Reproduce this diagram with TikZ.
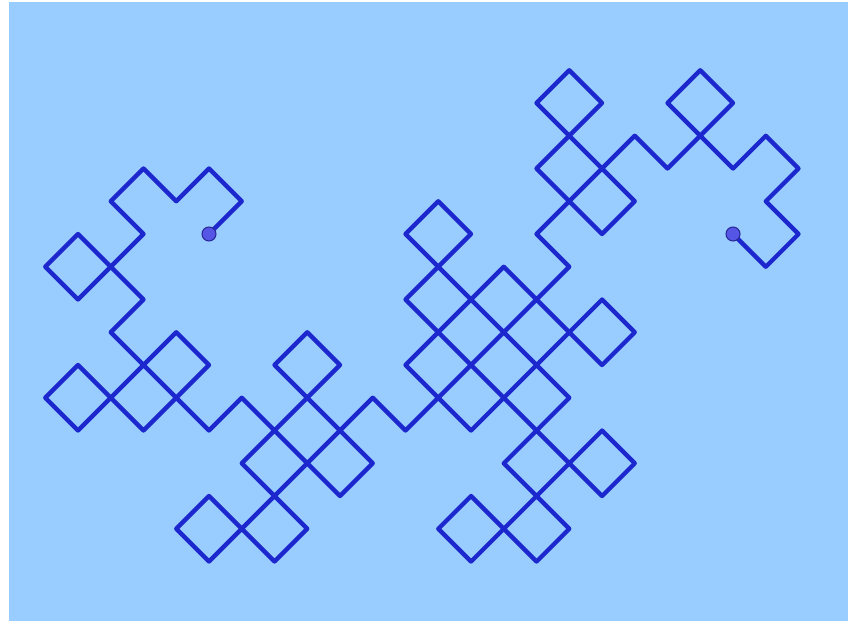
\documentclass[tikz,border=0pt]{standalone}
\usetikzlibrary{calc}
\definecolor{bgblue}{RGB}{153,204,255}
\definecolor{curveblue}{RGB}{28,40,205}
\definecolor{dotfill}{RGB}{85,85,230}
\definecolor{dotline}{RGB}{40,40,150}
\tikzset{
  curve/.style={draw=curveblue, line width=3.2pt, line join=round, line cap=round},
  enddot/.style={circle, fill=dotfill, draw=dotline, line width=0.8pt, inner sep=0pt, minimum size=10.5pt}
}
% build the dragon-curve path (order 7, 128 diagonal segments)
\newcount\segk \newcount\oddp \newcount\dirn \newcount\ptx \newcount\pty \newcount\tmpc
\def\pathspec{(0,0)}
\dirn=0 \ptx=0 \pty=0 \segk=0
\def\reduceodd{\ifodd\oddp\else\divide\oddp by 2 \expandafter\reduceodd\fi}
\loop
  \ifcase\dirn \advance\ptx by 1 \advance\pty by 1
  \or \advance\ptx by -1 \advance\pty by 1
  \or \advance\ptx by -1 \advance\pty by -1
  \or \advance\ptx by 1 \advance\pty by -1 \fi
  \edef\pathspec{\pathspec -- (\the\ptx,\the\pty)}
  \advance\segk by 1
\ifnum\segk<128
  \oddp=\segk
  \reduceodd
  \tmpc=\oddp \divide\tmpc by 4 \multiply\tmpc by 4 \advance\oddp by -\tmpc
  \ifnum\oddp=1 \advance\dirn by 1 \else \advance\dirn by -1 \fi
  \ifnum\dirn>3 \advance\dirn by -4 \fi
  \ifnum\dirn<0 \advance\dirn by 4 \fi
\repeat
\edef\endx{\the\ptx}\edef\endy{\the\pty}
\begin{document}
\begin{tikzpicture}[x=0.75pt,y=-0.75pt]
  \useasboundingbox (0,0) rectangle (848,621);
  \fill[white] (0,0) rectangle (848,621);
  \fill[bgblue] (9,2) rectangle (848,621);
  \begin{scope}[shift={(209,234)}, x=24.5625pt, y=24.5625pt]
    \draw[curve] \pathspec;
    \node[enddot] (startdot) at (0,0) {};
    \node[enddot] (enddotn) at (\endx,\endy) {};
  \end{scope}
\end{tikzpicture}
\end{document}
